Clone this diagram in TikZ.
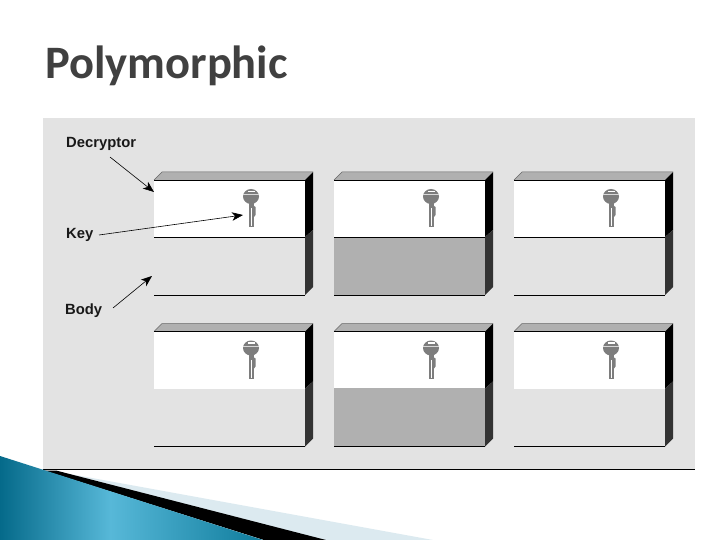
\documentclass[tikz,border=0pt]{standalone}
\usepackage{fontspec}
\setmainfont{Liberation Sans}
\newfontfamily\titlefont{Carlito}
\usetikzlibrary{arrows.meta}
\definecolor{panel}{HTML}{E3E3E3}
\definecolor{topface}{HTML}{B0B0B0}
\definecolor{darkside}{HTML}{333333}
\definecolor{keygray}{HTML}{7D7D7D}
\definecolor{titlegray}{HTML}{404040}
\definecolor{teal1}{HTML}{056A8A}
\definecolor{teal2}{HTML}{57B8D8}
\definecolor{teal3}{HTML}{0F7C9C}
\definecolor{paleblue}{HTML}{DCEAF0}
\pgfdeclarehorizontalshading{swoosh}{100bp}{color(0bp)=(teal1); color(25bp)=(teal1); color(46bp)=(teal2); color(75bp)=(teal3); color(100bp)=(teal3)}
\tikzset{
  x=1pt,y=-1pt,
  lbl/.style={font=\bfseries\fontsize{14.8}{16}\selectfont,inner sep=0pt,anchor=west,text=black!90},
  ttl/.style={font=\titlefont\bfseries\fontsize{46.5}{50}\selectfont,inner sep=0pt,anchor=base west},
  pointer/.style={draw=black,line width=0.6pt,-{Stealth[length=11pt,width=8.5pt,inset=3pt]}},
  pics/crate/.style n args={2}{code={
    \fill[white] (0,0) rectangle (151,57);
    \fill[#1] (0,57) rectangle (151,115);
    \fill[topface] (0,0) -- (8,-8) -- (159,-8) -- (151,0) -- cycle;
    \draw[black!60,line width=0.5pt] (0,0) -- (8,-8) -- (159,-8);
    \fill[black] (151,0) -- (159,-8) -- (159,50) -- (151,57) -- cycle;
    \fill[darkside] (151,57) -- (159,50) -- (159,107) -- (151,115) -- cycle;
    \draw[black,line width=0.8pt] (0,115) -- (151,115);
    \draw[black,line width=0.8pt] (0,0) -- (151,0);
    \draw[#2,line width=0.8pt] (0,57) -- (151,57);
    \begin{scope}[shift={(97,0)}]
      \fill[keygray] (-2,22) rectangle (3,47);
      \fill[keygray] (3,26) -- (4.5,27) -- (4.5,35) -- (3,37) -- cycle;
      \fill[white] (0.2,28) rectangle (1,46);
      \fill[keygray] (0,16.5) ellipse[x radius=8,y radius=7.5];
      \fill[white] (-3.5,10.8) rectangle (3.5,12.2);
      \fill[white!70!keygray] (-8,14) rectangle (8,15);
    \end{scope}
  }}
}
\begin{document}
\begin{tikzpicture}
\useasboundingbox (0,0) rectangle (720,540);
\fill[white] (0,0) rectangle (720,540);
\fill[panel] (43,118) rectangle (695,469);
\draw[black,line width=0.8pt] (43,469.3) -- (695,469.3);
\fill[paleblue] (70,474) -- (433,540) -- (320,540) -- cycle;
\fill[black] (44,470.5) -- (56,470.5) -- (326,540) -- (264,540) -- cycle;
\begin{scope}
  \clip (0,456) -- (263,540) -- (0,540) -- cycle;
  \shade[shading=swoosh] (0,456) rectangle (263,540);
\end{scope}
\node[ttl,text=titlegray] (title) at (45,78.5) {Polymorphic};
\path (154,180) pic {crate={panel}{black}};
\path (334,180) pic {crate={topface}{black}};
\path (514,180) pic {crate={panel}{black}};
\path (154,331.5) pic {crate={panel}{white}};
\path (334,331.5) pic {crate={topface}{topface}};
\path (514,331.5) pic {crate={panel}{white}};
\node[lbl] (dec) at (66,144) {Decryptor};
\node[lbl] (key) at (66,235) {Key};
\node[lbl] (body) at (65,311) {Body};
\coordinate (dectip) at (154,192);
\coordinate (keytip) at (243,215);
\coordinate (bodytip) at (152,276);
\coordinate (decstart) at (110,157);
\coordinate (keystart) at (99,235);
\coordinate (bodystart) at (113,308);
\draw[pointer] (decstart) -- (dectip);
\draw[pointer] (keystart) -- (keytip);
\draw[pointer] (bodystart) -- (bodytip);
\end{tikzpicture}
\end{document}
